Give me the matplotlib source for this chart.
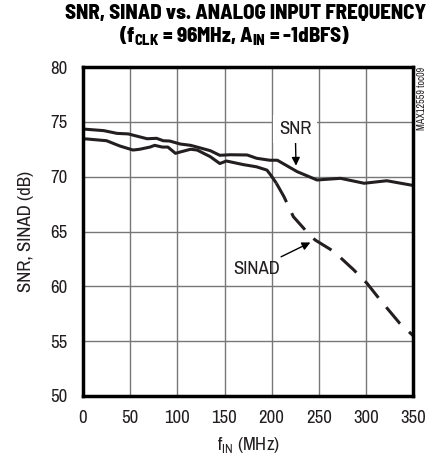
import matplotlib
matplotlib.use('Agg')
import matplotlib.pyplot as plt

# valeurs
snr_f = [0, 4, 22, 36, 48, 57, 68, 78, 85, 92, 103, 114, 121, 135, 145, 156, 174, 184, 198,
         206, 227, 248, 273, 298, 322, 350]
snr_db = [74.35, 74.32, 74.2, 73.95, 73.9, 73.7, 73.46, 73.5, 73.28, 73.25, 72.98, 72.86, 72.7,
          72.37, 71.95, 72.0, 71.98, 71.68, 71.5, 71.5, 70.46, 69.7, 69.85, 69.4, 69.63, 69.2]

sinad_f = [0, 4, 25, 39, 53, 60, 71, 76, 84, 90, 98, 103, 114, 121, 135, 145, 152, 170, 184,
           195, 199, 205]
sinad_db = [73.45, 73.44, 73.28, 72.8, 72.43, 72.5, 72.7, 72.86, 72.7, 72.7, 72.13, 72.25,
            72.5, 72.43, 71.82, 71.2, 71.43, 71.1, 70.9, 70.6, 70.15, 69.4]
# partie en pointillés
sinad_f2 = [205, 213, 223, 237, 246, 266, 287, 301, 315, 336, 350]
sinad_db2 = [69.4, 68.18, 66.35, 65.0, 64.23, 63.17, 61.5, 60.28, 58.76, 56.6, 55.5]

xticks = [0, 50, 100, 150, 200, 250, 300, 350]
yticks = [50, 55, 60, 65, 70, 75, 80]

plt.rcParams['font.family'] = ['Archivo Narrow', 'Liberation Sans', 'DejaVu Sans']
titre_font = ['Barlow Semi Condensed', 'Liberation Sans', 'DejaVu Sans']

fig = plt.figure(figsize=(4.45, 4.62), dpi=100)
ax = fig.add_axes([0.1865, 0.1429, 0.742, 0.712])

ax.plot(snr_f, snr_db, color='#231f20', lw=2.2, solid_capstyle='butt')
ax.plot(sinad_f, sinad_db, color='#231f20', lw=2.2, solid_capstyle='butt')
ax.plot(sinad_f2, sinad_db2, color='#231f20', lw=2.2, dashes=(7, 4))

ax.set_xlim(0, 350)
ax.set_ylim(50, 80)
ax.set_xticks(xticks)
ax.set_yticks(yticks)
ax.tick_params(length=0, labelsize=13.5, colors='#231f20')
ax.tick_params(axis='y', pad=11)
ax.tick_params(axis='x', pad=10)
ax.grid(True, color='#777777', lw=1)
for s in ax.spines.values():
    s.set_linewidth(2.5)
    s.set_color('black')

ax.set_xlabel(r'f$_{\mathregular{IN}}$ (MHz)', fontsize=13.5, labelpad=7, color='#231f20')
ax.set_ylabel('SNR, SINAD (dB)', fontsize=13.5, labelpad=12, color='#231f20')

# annotations
ax.annotate('SNR', xy=(225.8, 71.0), xytext=(225, 74.35), ha='center', va='center',
            fontsize=13.5, color='#231f20', bbox=dict(fc='white', ec='none', pad=4),
            arrowprops=dict(arrowstyle='-|>', color='black', lw=1, mutation_scale=12,
                            shrinkA=0, shrinkB=0))
ax.annotate('SINAD', xy=(241, 64.0), xytext=(184, 61.6), ha='center', va='center',
            fontsize=13.5, color='#231f20',
            arrowprops=dict(arrowstyle='-|>', color='black', lw=1, mutation_scale=12,
                            shrinkA=2, shrinkB=0))

fig.text(0.949, 0.855, 'MAX12559 toc09', rotation=90, ha='center', va='top', fontsize=7.2,
         color='#231f20')

fig.text(0.551, 0.971, 'SNR, SINAD vs. ANALOG INPUT FREQUENCY', ha='center', va='center',
         fontsize=15, fontweight=800, family=titre_font)
fig.text(0.527, 0.922, r'(f$_{\mathregular{CLK}}$ = 96MHz, A$_{\mathregular{IN}}$ = -1dBFS)',
         ha='center', va='center', fontsize=15, fontweight=800, family=titre_font)

fig.savefig('out.png', dpi=100)
